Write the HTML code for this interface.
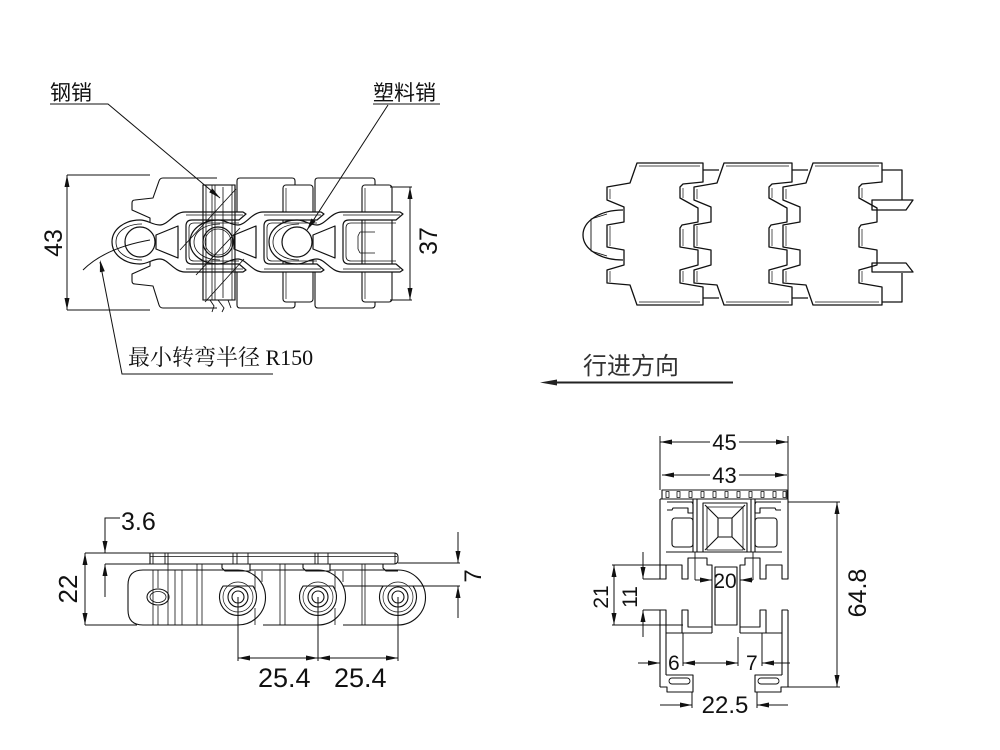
<!DOCTYPE html>
<html><head><meta charset="utf-8"><style>
html,body{margin:0;padding:0;background:#fff;}
svg{display:block;}
.cj{font-family:"Liberation Sans","Noto Sans CJK SC",sans-serif;}
.cs{font-family:"Liberation Serif","Noto Serif CJK SC",serif;}
.n{font-family:"Liberation Sans",sans-serif;}
</style></head><body>
<svg width="1000" height="750" viewBox="0 0 1000 750" xmlns="http://www.w3.org/2000/svg">
<rect width="1000" height="750" fill="#fff"/>

<!-- ================= TOP-LEFT VIEW ================= -->
<g fill="none" stroke="#111" stroke-width="1.1" stroke-linejoin="round">
  <!-- plates -->
  <path d="M217,178 H163 Q160,178 159,181 L153,198 L135,200 Q132,200 132,203 V210 L150,218 V266 L132,274 V281 Q132,284 135,284 L153,286 L159,305 Q160,308 163,308 H217"/>
  <path d="M237,214 V181 Q237,178 240,178 H292 Q295,178 295,181 V214 M237,272 V305 Q237,308 240,308 H292 Q295,308 295,305 V270"/>
  <path d="M315,214 V181 Q315,178 318,178 H372 Q375,178 375,181 V214 M315,272 V305 Q315,308 318,308 H372 Q375,308 375,305 V270"/>
  <!-- tabs -->
  <rect x="283" y="185" width="30" height="117" rx="3" fill="#fff"/>
  <rect x="362" y="185" width="30" height="117" rx="3" fill="#fff"/>
  <path d="M286,188 V299 M365,188 V299" stroke-width="0.7"/>
  <!-- steel pin base -->
  <rect x="203" y="185" width="32" height="115" fill="#fff"/>
</g>
<!-- core fill -->
<g fill="#fff" stroke="none">
  <path d="M112,242 C112,229 125,220 140,220 C148,220 152,225 160,225 C168,225 174,212 185,212 L243,212 L246,214 L239,220 L192,220 Q186,220 186,226 L186,258 Q186,264 192,264 L239,264 L246,270 L243,272 L185,272 C174,272 168,259 160,259 C152,259 148,264 140,264 C125,264 112,255 112,242 Z"/>
  <path d="M190,242 C190,229 203,220 218,220 C226,220 230,225 238,225 C246,225 252,212 263,212 L321,212 L324,214 L317,220 L270,220 Q264,220 264,226 L264,258 Q264,264 270,264 L317,264 L324,270 L321,272 L263,272 C252,272 246,259 238,259 C230,259 226,264 218,264 C203,264 190,255 190,242 Z"/>
  <path d="M269,242 C269,229 282,220 297,220 C305,220 309,225 317,225 C325,225 331,212 342,212 L400,212 L403,214 L396,220 L349,220 Q343,220 343,226 L343,258 Q343,264 349,264 L396,264 L403,270 L400,272 L342,272 C331,272 325,259 317,259 C309,259 305,264 297,264 C282,264 269,255 269,242 Z"/>
</g>
<g fill="none" stroke="#111" stroke-width="1.2" stroke-linejoin="round">
  <path d="M112,242 C112,229 125,220 140,220 C148,220 152,225 160,225 C168,225 174,212 185,212 L243,212 L246,214 L239,220 L192,220 Q186,220 186,226 L186,258 Q186,264 192,264 L239,264 L246,270 L243,272 L185,272 C174,272 168,259 160,259 C152,259 148,264 140,264 C125,264 112,255 112,242 Z"/>
  <path d="M190,242 C190,229 203,220 218,220 C226,220 230,225 238,225 C246,225 252,212 263,212 L321,212 L324,214 L317,220 L270,220 Q264,220 264,226 L264,258 Q264,264 270,264 L317,264 L324,270 L321,272 L263,272 C252,272 246,259 238,259 C230,259 226,264 218,264 C203,264 190,255 190,242 Z"/>
  <path d="M269,242 C269,229 282,220 297,220 C305,220 309,225 317,225 C325,225 331,212 342,212 L400,212 L403,214 L396,220 L349,220 Q343,220 343,226 L343,258 Q343,264 349,264 L396,264 L403,270 L400,272 L342,272 C331,272 325,259 317,259 C309,259 305,264 297,264 C282,264 269,255 269,242 Z"/>
  <!-- inner offset lines -->
  <g stroke-width="0.8">
    <path d="M239,223 L194,223 Q189,223 189,228 L189,256 Q189,261 194,261 L239,261"/>
    <path d="M317,223 L272,223 Q267,223 267,228 L267,256 Q267,261 272,261 L317,261"/>
    <path d="M396,223 L351,223 Q346,223 346,228 L346,256 Q346,261 351,261 L396,261"/>
    <path d="M142,224 C126,224 116,232 116,242 C116,252 126,260 142,260"/>
    <path d="M220,224 C204,224 194,232 194,242 C194,252 204,260 220,260"/>
    <path d="M299,224 C283,224 273,232 273,242 C273,252 283,260 299,260"/>
    <path d="M186,215 L243,215 M186,269 L243,269 M264,215 L321,215 M264,269 L321,269 M343,215 L400,215 M343,269 L400,269"/>
    <path d="M360,232 L358,236 V249 L360,253 M360,232 H375 M360,253 H375"/>
  </g>
  <!-- windows -->
  <path d="M156,235 L178,226 L178,258 L156,249 Z"/>
  <path d="M234,235 L256,226 L256,258 L234,249 Z"/>
  <path d="M313,235 L335,226 L335,258 L313,249 Z"/>
  <!-- pin holes -->
  <circle cx="140" cy="242" r="15"/>
  <circle cx="218" cy="242" r="15"/>
  <circle cx="297" cy="242" r="15"/>
  <circle cx="218" cy="242" r="13" stroke-width="0.7"/>
</g>
<!-- steel pin on top -->
<g fill="none" stroke="#111" stroke-width="1.1">
  <rect x="203" y="185" width="32" height="115"/>
  <path d="M206,185 V300 M232,185 V300 M212,185 V300 M215,185 V300 M223,187 V298" stroke-width="0.8"/>
  <path d="M180,250 L236,189 M205,302 L244,259 M196,275 L240,228" stroke-width="0.9"/>
  <path d="M210,300 L214,306 L212,312 M218,300 L224,308 L222,312 M228,300 L231,308" stroke-width="0.9"/>
</g>

<!-- labels & dims top-left -->
<g fill="none" stroke="#111" stroke-width="1">
  <path d="M50,104 H108 L220,198"/>
  <path d="M440,104 H373 M388,105 L307,230"/>
  <path d="M67,175 V310 M67,175 H150 M67,310 H150"/>
  <path d="M410,187 V300 M390,187 H412 M390,300 H412"/>
  <path d="M273,374 H122 L100,262"/>
  <path d="M83,270 Q105,248 150,240"/>
</g>
<g fill="#111" stroke="none">
  <polygon points="220,198 209.2,192.2 212.4,188.4"/>
  <polygon points="307,230 315.6,221.3 311.4,218.5"/>
  <polygon points="67,175 64.5,187 69.5,187"/>
  <polygon points="67,310 64.5,298 69.5,298"/>
  <polygon points="410,187 407.5,199 412.5,199"/>
  <polygon points="410,300 407.5,288 412.5,288"/>
  <polygon points="100,260 104.8,271.3 99.9,272.3"/>
</g>
<text x="50" y="100" class="cj" font-size="21" fill="#111">钢销</text>
<text x="373" y="100" class="cj" font-size="21" fill="#111">塑料销</text>
<text x="128" y="365" class="cs" font-size="22" fill="#111">最小转弯半径 R150</text>
<text transform="translate(62,243) rotate(-90)" text-anchor="middle" class="n" font-size="25" fill="#111">43</text>
<text transform="translate(437,241) rotate(-90)" text-anchor="middle" class="n" font-size="25" fill="#111">37</text>

<!-- ================= TOP-RIGHT VIEW ================= -->
<g fill="none" stroke="#111" stroke-width="1.3" stroke-linejoin="round">
  <!-- D cap -->
  <path d="M623,210 C600,210 583,221 583,235 C583,249 600,260 623,260"/>
  <path d="M607,214 L591,219 V251 L607,256" stroke-width="0.9"/>
  <!-- links -->
  <path d="M637,163 H703 V182 L683,184 L680,187 V198 L698,208 V222 L682,225 L680,228 V247 L698,250 V265 L680,270 V283 L703,287 V305 H637 L630,285 L607,283 V270 L624,265 V250 L607,247 V225 L624,222 V207 L607,200 V187 L630,183 Z"/>
  <path d="M724,163 H792 V182 L772,184 L769,187 V198 L787,208 V222 L771,225 L769,228 V247 L787,250 V265 L769,270 V283 L792,287 V305 H724 L717,285 L694,283 V270 L711,265 V250 L694,247 V225 L711,222 V207 L694,200 V187 L717,183 Z"/>
  <path d="M813,163 H882 V182 L862,184 L859,187 V198 L877,208 V222 L861,225 L859,228 V247 L877,250 V265 L859,270 V283 L882,287 V305 H813 L806,285 L783,283 V270 L800,265 V250 L783,247 V225 L800,222 V207 L783,200 V187 L806,183 Z"/>
  <!-- inner double lines -->
  <g stroke-width="0.7">
    <path d="M639,166 H700 M639,302 H700 M726,166 H789 M726,302 H789 M815,166 H879 M815,302 H879"/>
    <path d="M610,189 V199 M610,226 V246 M610,271 V282 M697,189 V199 M697,226 V246 M697,271 V282 M786,189 V199 M786,226 V246 M786,271 V282"/>
    <path d="M683,188 V198 M683,229 V246 M683,271 V282 M772,188 V198 M772,229 V246 M772,271 V282 M862,188 V198 M862,229 V246 M862,271 V282"/>
  </g>
  <!-- connectors -->
  <path d="M703,170 H719 M703,298 H719 M792,170 H808 M792,298 H808"/>
  <!-- right tabs -->
  <path d="M882,170 H902 V200 M902,273 V302 H882"/>
  <polygon points="872,200 913,200 906,210 872,210"/>
  <polygon points="872,263 906,263 913,272 872,272"/>
</g>

<!-- direction arrow -->
<text x="583" y="374" class="cj" font-size="24" fill="#333">行进方向</text>
<line x1="552" y1="382.5" x2="733" y2="382.5" stroke="#222" stroke-width="2"/>
<polygon points="540,382.5 557,379.5 557,385.5" fill="#222"/>

<!-- ================= BOTTOM-LEFT VIEW ================= -->
<g fill="none" stroke="#111" stroke-width="1.1" stroke-linejoin="round">
  <!-- top plate -->
  <path d="M150,553 H394 Q398,553 398,557 V560 Q398,564 394,564 H150 Z"/>
  <path d="M150,556.5 H397" stroke-width="0.7"/>
  <path d="M153,553 V564 M165,553 V564 M168,553 V564 M233,553 V564 M237,553 V564 M248,553 V564 M315,553 V564 M318,553 V564 M328,553 V564 M395,553 V564" stroke-width="0.9"/>
  <!-- small tabs -->
  <path d="M222,564 V568 L225,571 H250 V564 M303,564 V568 L306,571 H330 V564 M383,564 V568 L386,571 H398"/>
  <!-- links -->
  <path d="M143,570 H238 A27.5,27.5 0 0 1 238,625 H143 Q128,625 128,610 V585 Q128,570 143,570 Z"/>
  <path d="M250,570 H318 A27.5,27.5 0 0 1 318,625 H263"/>
  <path d="M330,570 H398 A27.5,27.5 0 0 1 398,625 H343"/>
  <!-- ribs -->
  <path d="M153,570 V625 M158,570 V588 M158,606 V625 M168,564 V625 M175,570 V625 M182,570 V625 M197,564 V625 M202,564 V625 M280,564 V625 M285,564 V625 M362,564 V625 M365,564 V625" stroke-width="0.8"/>
  <path d="M255,571 V590 M262,571 V582 M335,571 V590 M343,571 V582 M255,608 V625 M335,608 V625" stroke-width="0.8"/>
  <!-- left oval -->
  <ellipse cx="158" cy="597" rx="11" ry="8"/>
  <ellipse cx="158" cy="597" rx="8" ry="5.5" stroke-width="0.8"/>
  <!-- pins -->
  <path d="M223.1,586 H252.9 A18.5,18.5 0 1 1 223.1,586 Z"/>
  <path d="M303.1,586 H332.9 A18.5,18.5 0 1 1 303.1,586 Z"/>
  <path d="M383.1,586 H412.9 A18.5,18.5 0 1 1 383.1,586 Z"/>
  <circle cx="238" cy="597" r="15" stroke-width="0.7"/>
  <circle cx="318" cy="597" r="15" stroke-width="0.7"/>
  <circle cx="398" cy="597" r="15" stroke-width="0.7"/>
  <circle cx="238" cy="597" r="10"/><circle cx="238" cy="597" r="6"/>
  <circle cx="318" cy="597" r="10"/><circle cx="318" cy="597" r="6"/>
  <circle cx="398" cy="597" r="10"/><circle cx="398" cy="597" r="6"/>
</g>
<!-- dims bottom-left -->
<g fill="none" stroke="#111" stroke-width="1">
  <path d="M120,518 H105 V553 M105,564 V597 M85,553 H150 M105,564 H167"/>
  <path d="M85,553 V625 M85,625 H137"/>
  <path d="M458,532 V563 M458,586 V618 M398,563 H460 M343,586 H460"/>
  <path d="M238,597 V661 M318,597 V661 M398,597 V661 M238,658 H398"/>
</g>
<g fill="#111">
  <polygon points="105,553 102.5,541 107.5,541"/>
  <polygon points="105,564 102.5,576 107.5,576"/>
  <polygon points="85,553 82.5,565 87.5,565"/>
  <polygon points="85,625 82.5,613 87.5,613"/>
  <polygon points="458,563 455.5,551 460.5,551"/>
  <polygon points="458,586 455.5,598 460.5,598"/>
  <polygon points="238,658 250,655.5 250,660.5"/>
  <polygon points="318,658 306,655.5 306,660.5"/>
  <polygon points="318,658 330,655.5 330,660.5"/>
  <polygon points="398,658 386,655.5 386,660.5"/>
</g>
<text x="121" y="530" class="n" font-size="25" fill="#111">3.6</text>
<text transform="translate(77,589) rotate(-90)" text-anchor="middle" class="n" font-size="26" fill="#111">22</text>
<text transform="translate(481,576) rotate(-90)" text-anchor="middle" class="n" font-size="24" fill="#111">7</text>
<text x="258" y="687" class="n" font-size="27" fill="#111">25.4</text>
<text x="334" y="687" class="n" font-size="27" fill="#111">25.4</text>

<!-- ================= BOTTOM-RIGHT VIEW ================= -->
<g fill="none" stroke="#111" stroke-width="1.1" stroke-linejoin="round">
  <!-- top plate -->
  <rect x="662" y="490" width="125" height="9"/>
  <g stroke-width="0.8">
    <rect x="666" y="491.5" width="3" height="6"/><rect x="677" y="491.5" width="3" height="6"/>
    <rect x="689" y="491.5" width="3" height="6"/><rect x="701" y="491.5" width="3" height="6"/>
    <rect x="713" y="491.5" width="3" height="6"/><rect x="725" y="491.5" width="3" height="6"/>
    <rect x="737" y="491.5" width="3" height="6"/><rect x="749" y="491.5" width="3" height="6"/>
    <rect x="761" y="491.5" width="3" height="6"/><rect x="773" y="491.5" width="3" height="6"/>
    <rect x="783" y="491.5" width="3" height="6"/>
  </g>
  <!-- upper block -->
  <path d="M660,499 H788"/>
  <path d="M660,499 V579 H666 V565 H682 V579 H688 V558 H707 V565 H712 V633"/>
  <path d="M788,499 V579 H782 V565 H766 V579 H760 V558 H745 V565 H740 V633"/>
  <path d="M666,552 H782 M693,499 V552 M697,499 V552 M751,499 V552 M755,499 V552"/>
  <path d="M695,552 V580 M753,552 V580" stroke-width="0.9"/>
  <!-- hooks -->
  <path d="M667,502 H692 L693,504 V513 H688 V508 H673 L672,510 H667"/>
  <path d="M781,502 H756 L755,504 V513 H760 V508 H775 L776,510 H781"/>
  <rect x="672" y="518" width="21" height="29" rx="3"/>
  <rect x="755" y="518" width="22" height="29" rx="3"/>
  <!-- square -->
  <rect x="703" y="503" width="44" height="49"/>
  <rect x="707" y="507" width="36" height="43" stroke-width="0.8"/>
  <rect x="718" y="518" width="14" height="19"/>
  <path d="M705,505 L718,518 M745,505 L732,518 M705,550 L718,537 M745,550 L732,537"/>
  <!-- web -->
  <rect x="715" y="567" width="22" height="58"/>
  <!-- lower comb -->
  <path d="M660,610 H666 V633 H712 M666,633 V675"/>
  <path d="M682,633 V610 H688 V627 H712"/>
  <path d="M788,610 H782 V633 H740 M782,633 V675"/>
  <path d="M766,633 V610 H760 V627 H740"/>
  <path d="M660,610 V687"/>
  <path d="M788,610 V687"/>
  <!-- bottom hooks -->
  <path d="M660,687 H667 V692 H693 V675 H666"/>
  <path d="M788,687 H781 V692 H755 V675 H782"/>
  <rect x="669" y="678" width="21" height="6" rx="3" stroke-width="0.9"/>
  <rect x="758" y="678" width="21" height="6" rx="3" stroke-width="0.9"/>
</g>
<!-- dims bottom-right -->
<g fill="none" stroke="#111" stroke-width="1">
  <path d="M660,436 V490 M788,436 V499"/>
  <path d="M660,442 H710 M739,442 H788"/>
  <path d="M662,475 H710 M739,475 H787"/>
  <path d="M788,502 H840 M788,687 H840 M837,502 V687"/>
  <path d="M612,565 H666 M612,625 H683 M614,565 V625"/>
  <path d="M643,552 V579 M643,610 V637 M643,579 H660 M643,610 H660"/>
  <path d="M695,580 H712 M740,580 H753"/>
  <path d="M683,633 V666 M738,637 V666 M762,633 V666"/>
  <path d="M638,663 H660 M683,663 H738 M762,663 H790"/>
  <path d="M692,692 V708 M757,692 V708 M660,705 H692 M757,705 H788"/>
</g>
<g fill="#111">
  <polygon points="660,442 672,439.5 672,444.5"/>
  <polygon points="788,442 776,439.5 776,444.5"/>
  <polygon points="662,475 674,472.5 674,477.5"/>
  <polygon points="787,475 775,472.5 775,477.5"/>
  <polygon points="837,502 834.5,514 839.5,514"/>
  <polygon points="837,687 834.5,675 839.5,675"/>
  <polygon points="614,565 611.5,577 616.5,577"/>
  <polygon points="614,625 611.5,613 616.5,613"/>
  <polygon points="643,579 640.5,567 645.5,567"/>
  <polygon points="643,610 640.5,622 645.5,622"/>
  <polygon points="712,580 700,577.5 700,582.5"/>
  <polygon points="740,580 752,577.5 752,582.5"/>
  <polygon points="660,663 648,660.5 648,665.5"/>
  <polygon points="683,663 695,660.5 695,665.5"/>
  <polygon points="738,663 726,660.5 726,665.5"/>
  <polygon points="762,663 774,660.5 774,665.5"/>
  <polygon points="692,705 680,702.5 680,707.5"/>
  <polygon points="757,705 769,702.5 769,707.5"/>
</g>
<text x="724.5" y="450" text-anchor="middle" class="n" font-size="22" fill="#111">45</text>
<text x="724.5" y="483" text-anchor="middle" class="n" font-size="22" fill="#111">43</text>
<text x="725" y="588" text-anchor="middle" class="n" font-size="21" fill="#111">20</text>
<text transform="translate(866,593) rotate(-90)" text-anchor="middle" class="n" font-size="25" fill="#111">64.8</text>
<text transform="translate(608,597) rotate(-90)" text-anchor="middle" class="n" font-size="21" fill="#111">21</text>
<text transform="translate(637,597) rotate(-90)" text-anchor="middle" class="n" font-size="21" fill="#111">11</text>
<text x="668" y="670" class="n" font-size="21" fill="#111">6</text>
<text x="746" y="670" class="n" font-size="21" fill="#111">7</text>
<text x="725" y="713" text-anchor="middle" class="n" font-size="24" fill="#111">22.5</text>
</svg>
</body></html>
